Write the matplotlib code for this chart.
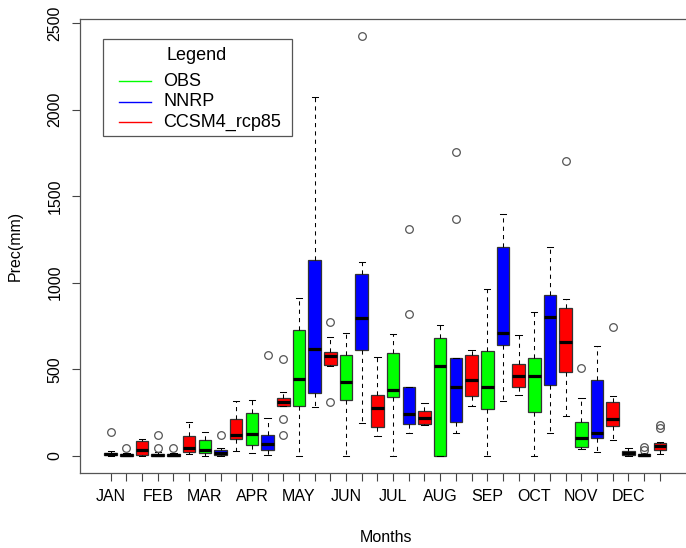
import numpy as np
import matplotlib
matplotlib.use('Agg')
import matplotlib.pyplot as plt
from matplotlib.patches import Rectangle
from matplotlib.lines import Line2D

plt.rcParams['font.family'] = ['Liberation Sans', 'DejaVu Sans']

months = ['JAN', 'FEB', 'MAR', 'APR', 'MAY', 'JUN',
          'JUL', 'AUG', 'SEP', 'OCT', 'NOV', 'DEC']
series = ['OBS', 'NNRP', 'CCSM4_rcp85']
colors = ['#00ff00', '#0000ff', '#ff0000']

# box stats: whisker low, Q1, median, Q3, whisker high
obs_lo  = [0, 0, 0, 17, 0, 0, 0, 0, 0, 0, 37, 0]
obs_q1  = [2, 1, 17, 60, 287, 322, 338, 0, 268, 254, 52, 3]
obs_med = [8, 5, 33, 127, 441, 428, 380, 518, 399, 462, 100, 15]
obs_q3  = [15, 10, 91, 245, 727, 582, 595, 682, 607, 565, 197, 25]
obs_hi  = [25, 20, 135, 324, 910, 711, 702, 755, 964, 829, 331, 43]
obs_out = [[135], [45, 118], [], [], [], [], [], [], [], [], [505], []]

nnrp_lo  = [0, 0, 0, 4, 280, 191, 129, 133, 316, 129, 23, 0]
nnrp_q1  = [0, 0, 3, 35, 361, 611, 181, 195, 640, 409, 104, 1]
nnrp_med = [3, 3, 17, 67, 619, 794, 241, 395, 711, 803, 129, 5]
nnrp_q3  = [8, 8, 31, 122, 1131, 1049, 395, 566, 1205, 929, 438, 10]
nnrp_hi  = [15, 15, 46, 218, 2075, 1120, 395, 566, 1395, 1208, 634, 17]
nnrp_out = [[45], [43], [121], [583], [], [2425], [819, 1309], [1366, 1757],
            [], [], [], [35, 48]]

ccsm_lo  = [0, 10, 25, 285, 520, 116, 175, 289, 349, 229, 91, 8]
ccsm_q1  = [5, 23, 95, 290, 524, 168, 183, 347, 399, 486, 172, 33]
ccsm_med = [35, 46, 118, 309, 578, 274, 220, 438, 461, 655, 210, 56]
ccsm_q3  = [85, 114, 215, 332, 598, 351, 258, 582, 530, 854, 310, 75]
ccsm_hi  = [97, 193, 314, 370, 688, 572, 303, 611, 698, 904, 347, 80]
ccsm_out = [[], [], [], [120, 210, 557], [309, 775], [], [], [], [], [1703],
            [742], [160, 175]]

yticks = [0, 500, 1000, 1500, 2000, 2500]

all_series = [
    (obs_lo, obs_q1, obs_med, obs_q3, obs_hi, obs_out),
    (nnrp_lo, nnrp_q1, nnrp_med, nnrp_q3, nnrp_hi, nnrp_out),
    (ccsm_lo, ccsm_q1, ccsm_med, ccsm_q3, ccsm_hi, ccsm_out),
]

stats = []
box_colors = []
for m in range(12):
    for s, (lo, q1, med, q3, hi, out) in enumerate(all_series):
        stats.append(dict(whislo=lo[m], q1=q1[m], med=med[m], q3=q3[m],
                          whishi=hi[m], fliers=out[m]))
        box_colors.append(colors[s])
positions = np.arange(1, len(stats) + 1)

W, H = 686, 548
fig = plt.figure(figsize=(W / 100, H / 100), dpi=100)
ax = fig.add_axes([80 / W, (H - 472.7) / H, 611.2 / W, (472.7 - 19.3) / H])

bp = ax.bxp(stats, positions=positions, widths=0.8, patch_artist=True,
            capwidths=0.4,
            boxprops=dict(edgecolor='#333333', linewidth=0.9),
            medianprops=dict(color='black', linewidth=2.3),
            whiskerprops=dict(color='black', linewidth=0.75,
                              linestyle=(0, (4, 4))),
            capprops=dict(color='black', linewidth=0.75),
            flierprops=dict(marker='o', markerfacecolor='none',
                            markeredgecolor='#555555', markersize=5.5,
                            markeredgewidth=0.9))
for patch, c in zip(bp['boxes'], box_colors):
    patch.set_facecolor(c)

ax.set_xlim(-0.957, 38.0)
ax.set_ylim(-98, 2522)

xlabels = []
for i in range(len(stats)):
    xlabels.append(months[i // 3] if i % 3 == 0 else '')
ax.set_xticks(positions)
ax.set_xticklabels(xlabels)
ax.set_yticks(yticks)
ax.set_yticklabels([str(v) for v in yticks], rotation=90, va='center')

ax.tick_params(axis='both', length=6, width=0.8, color='#444444',
               labelsize=11.5, labelcolor='black')
ax.tick_params(axis='x', pad=6)
ax.tick_params(axis='y', pad=6.5)
for sp in ax.spines.values():
    sp.set_color('#555555')
    sp.set_linewidth(0.9)

fig.text(15 / W, 1 - 246 / H, 'Prec(mm)', rotation=90, ha='center',
         va='center', fontsize=11.5)
fig.text(385.6 / W, 1 - 538 / H, 'Months', ha='center', va='center',
         fontsize=11.5)

# legend drawn by hand to match the R layout
def fx(x):
    return x / W

def fy(y):
    return 1 - y / H

fig.add_artist(Rectangle((fx(103.3), fy(136)), fx(291.7) - fx(103.3),
                         fy(39.3) - fy(136), transform=fig.transFigure,
                         facecolor='white', edgecolor='#555555', lw=0.9))
fig.text(fx(197), fy(59.5), 'Legend', ha='center', va='baseline', fontsize=13)
for k, (name, c) in enumerate(zip(series, colors)):
    yc = 81 + k * 20.7
    fig.add_artist(Line2D([fx(119.3), fx(151)], [fy(yc), fy(yc)],
                          transform=fig.transFigure, color=c, lw=1))
    fig.text(fx(163.3), fy(yc + 4.8), name, ha='left', va='baseline',
             fontsize=13)

fig.savefig('out.png', dpi=100)
